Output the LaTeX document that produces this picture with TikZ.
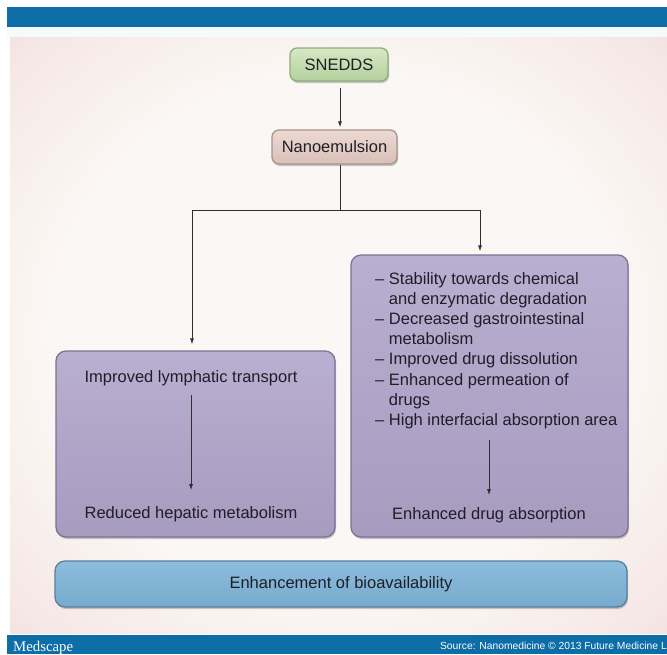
\documentclass[tikz,border=0pt]{standalone}
\usepackage{fontspec}
\setmainfont{Liberation Sans}
\newfontfamily\medfont{Liberation Serif}
\usetikzlibrary{arrows.meta,shadows}
\definecolor{barblue}{HTML}{0C6DA7}
\definecolor{txtcol}{HTML}{1E1E28}
\definecolor{linecol}{HTML}{2E2E36}
\definecolor{pinkout}{HTML}{EDD6D6}
\definecolor{pinkmid}{HTML}{F5E8E6}
\definecolor{pinkin}{HTML}{FBF7F4}
\definecolor{gapcol}{HTML}{F5FBFB}
\definecolor{greentop}{HTML}{D6E8C4}
\definecolor{greenbot}{HTML}{B4D09C}
\definecolor{greenbd}{HTML}{8FAE7E}
\definecolor{beigetop}{HTML}{ECDAD3}
\definecolor{beigebot}{HTML}{D8BFB6}
\definecolor{beigebd}{HTML}{A8938D}
\definecolor{purptop}{HTML}{B9AFD0}
\definecolor{purpbot}{HTML}{A79BBF}
\definecolor{purpbd}{HTML}{7C7296}
\definecolor{bluetop}{HTML}{8DBDDD}
\definecolor{bluebot}{HTML}{77AACD}
\definecolor{bluebd}{HTML}{55809F}
\pgfdeclareradialshading{pinkglow}{\pgfpoint{0bp}{0bp}}{%
  color(0bp)=(pinkin); color(22bp)=(pinkin); color(33bp)=(pinkmid);
  color(42bp)=(pinkout); color(72bp)=(pinkout)}
\tikzset{
  boxbase/.style={rounded corners=7pt, line width=1.3pt, inner sep=0pt,
    drop shadow={shadow xshift=1pt, shadow yshift=-2pt, opacity=0.35, fill=black!60},
    font=\fontsize{16.5}{20}\selectfont, text=txtcol},
  greenbox/.style={boxbase, draw=greenbd, top color=greentop, bottom color=greenbot},
  beigebox/.style={boxbase, draw=beigebd, top color=beigetop, bottom color=beigebot},
  purplebox/.style={boxbase, rounded corners=10pt, draw=purpbd, top color=purptop, bottom color=purpbot},
  bluebox/.style={boxbase, rounded corners=10pt, draw=bluebd, top color=bluetop, bottom color=bluebot},
  txt/.style={inner sep=0pt, font=\fontsize{16.5}{20}\selectfont, text=txtcol},
  litem/.style={txt, anchor=base west},
  conn/.style={draw=linecol, line width=0.8pt, -{Latex[length=6pt,width=4pt]}},
  plainline/.style={draw=linecol, line width=0.8pt}
}
\begin{document}
\begin{tikzpicture}[x=1pt,y=-1pt]
\useasboundingbox (0,0) rectangle (667,654);
% page frame
\fill[white] (0,0) rectangle (667,654);
\fill[barblue] (7,7) rectangle (667,27);
\fill[gapcol] (7,27) rectangle (667,37);
\shade[shading=pinkglow] (10,37) rectangle (667,633);
\fill[barblue] (7,635) rectangle (667,654);
\node[anchor=base west, inner sep=0pt, text=white, font=\medfont\fontsize{14.8}{16}\selectfont] (med) at (13,651) {Medscape};
\node[anchor=base east, inner sep=0pt, text=white, font=\fontsize{10.3}{12}\selectfont] (src) at (667,649) {Source: Nanomedicine © 2013 Future Medicine L};

% boxes
\node[greenbox, minimum width=98pt, minimum height=33pt] (snedds) at (339,64.5) {SNEDDS};
\node[beigebox, minimum width=125pt, minimum height=34pt] (nano) at (334.5,147) {Nanoemulsion};
\node[purplebox, minimum width=279pt, minimum height=186pt] (lbox) at (195.5,444) {};
\node[purplebox, minimum width=277pt, minimum height=282pt] (rbox) at (489.5,396) {};
\node[bluebox, minimum width=572pt, minimum height=46pt] (bio) at (341,584) {Enhancement of bioavailability};

% connectors
\coordinate (jc) at (340,210);
\coordinate (jl) at (192,210);
\coordinate (jr) at (480,210);
\draw[conn, shorten <=6pt, shorten >=2pt] (snedds.south -| jc) -- (nano.north -| jc);
\draw[plainline] (nano.south -| jc) -- (jc);
\draw[plainline] (jl) -- (jr);
\draw[conn, shorten >=6pt] (jl) -- (jl |- lbox.north);
\draw[conn, shorten >=3pt] (jr) -- (jr |- rbox.north);

% left box content
\node[txt] (lymph) at (191,378) {Improved lymphatic transport};
\node[txt] (hep) at (191,514) {Reduced hepatic metabolism};
\draw[conn, shorten <=9pt, shorten >=16pt] (lymph.south) -- (hep.north);

% right box content
\node[litem] (r1) at (375,284.5) {– Stability towards chemical};
\node[litem] (r2) at (375,304.6) {\phantom{– }and enzymatic degradation};
\node[litem] (r3) at (375,324.7) {– Decreased gastrointestinal};
\node[litem] (r4) at (375,344.8) {\phantom{– }metabolism};
\node[litem] (r5) at (375,364.9) {– Improved drug dissolution};
\node[litem] (r6) at (375,385.0) {– Enhanced permeation of};
\node[litem] (r7) at (375,405.1) {\phantom{– }drugs};
\node[litem] (r8) at (375,425.2) {– High interfacial absorption area};
\node[txt] (abs) at (489,515) {Enhanced drug absorption};
\draw[conn, shorten <=11pt, shorten >=12pt] (abs.north |- r8.south) -- (abs.north);
\end{tikzpicture}
\end{document}
